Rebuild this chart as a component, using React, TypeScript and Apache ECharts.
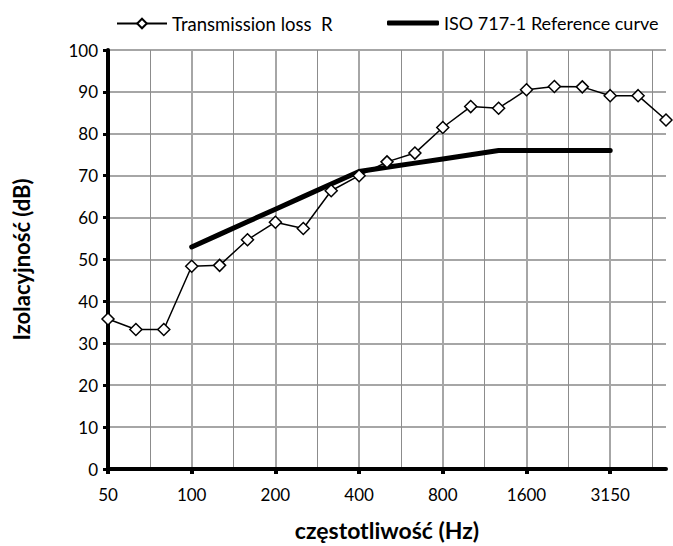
import React, { useEffect, useRef } from "react";
import * as echarts from "echarts";

// 1/3-octave band centre frequencies (Hz)
const frequencies = [
  "50", "63", "80", "100", "125", "160", "200", "250", "315", "400", "500",
  "630", "800", "1000", "1250", "1600", "2000", "2500", "3150", "4000", "5000",
];
// Transmission loss R (dB) per band
const transmissionLoss = [
  35.8, 33.3, 33.3, 48.4, 48.6, 54.7, 58.9, 57.4, 66.4, 70.0, 73.3,
  75.4, 81.5, 86.5, 86.1, 90.5, 91.3, 91.2, 89.1, 89.1, 83.3,
];
// ISO 717-1 reference curve (shifted), bands 100 .. 3150 Hz
const refStartIndex = 3;
const referenceCurve = [53, 56, 59, 62, 65, 68, 71, 72, 73, 74, 75, 76, 76, 76, 76, 76];
// x-axis labelled bands (indices)
const labelledIndices = [0, 3, 6, 9, 12, 15, 18];

const FONT = "Lato, 'Open Sans', sans-serif";

export default function App() {
  const ref = useRef<HTMLDivElement>(null);
  useEffect(() => {
    if (!ref.current) return;
    const chart = echarts.init(ref.current, undefined, { renderer: "svg" });
    const tlData = transmissionLoss.map((v, i) => [i, v]);
    const refData = referenceCurve.map((v, i) => [i + refStartIndex, v]);
    chart.setOption({
      animation: false,
      backgroundColor: "#fff",
      textStyle: { fontFamily: FONT, color: "#000" },
      grid: { left: 108, right: 7, top: 50, bottom: 73, containLabel: false },
      legend: [
        {
          data: ["Transmission loss  R"],
          left: 111,
          top: 9,
          itemWidth: 50,
          itemHeight: 12,
          itemGap: 0,
          textStyle: { fontFamily: FONT, fontSize: 18.5, color: "#000" },
        },
        {
          data: [{ name: "ISO 717-1 Reference curve", icon: "roundRect" }],
          left: 382,
          top: 9,
          itemWidth: 52,
          itemHeight: 5,
          itemGap: 0,
          textStyle: { fontFamily: FONT, fontSize: 18, color: "#000" },
        },
      ],
      xAxis: {
        type: "value",
        min: 0,
        max: frequencies.length - 1,
        interval: 3,
        name: "częstotliwość (Hz)",
        nameLocation: "middle",
        nameGap: 49,
        nameTextStyle: { fontFamily: FONT, fontSize: 23, fontWeight: "bold", color: "#000" },
        axisLine: { show: true, onZero: false, lineStyle: { color: "#000", width: 4 } },
        axisTick: {
          show: true,
          length: 5,
          lineStyle: { color: "#000", width: 4 },
          customValues: labelledIndices,
        },
        axisLabel: {
          fontFamily: FONT,
          fontSize: 17,
          color: "#000",
          margin: 17,
          customValues: labelledIndices,
          formatter: (v: number) => frequencies[Math.round(v)] ?? "",
        },
        splitLine: {
          show: true,
          showMinLine: false,
          showMaxLine: true,
          lineStyle: { color: "#a6a6a6", width: 2 },
        },
        minorTick: { show: false, splitNumber: 2 },
        minorSplitLine: { show: true, lineStyle: { color: "#8c8c8c", width: 1 } },
      },
      yAxis: {
        type: "value",
        min: 0,
        max: 100,
        interval: 10,
        name: "Izolacyjność (dB)",
        nameLocation: "middle",
        nameGap: 76,
        nameTextStyle: { fontFamily: FONT, fontSize: 22, fontWeight: "bold", color: "#000" },
        axisLine: { show: true, lineStyle: { color: "#000", width: 4 } },
        axisTick: { show: true, length: 5, lineStyle: { color: "#000", width: 3 } },
        axisLabel: { fontFamily: FONT, fontSize: 17, color: "#000", margin: 10 },
        splitLine: {
          show: true,
          showMinLine: false,
          showMaxLine: true,
          lineStyle: { color: "#a6a6a6", width: 2 },
        },
      },
      series: [
        {
          name: "Transmission loss  R",
          type: "line",
          data: tlData,
          symbol: "diamond",
          symbolSize: 12,
          showAllSymbol: true,
          lineStyle: { color: "#000", width: 1.5 },
          itemStyle: { color: "#fff", borderColor: "#000", borderWidth: 1.5 },
          z: 3,
        },
        {
          name: "ISO 717-1 Reference curve",
          type: "line",
          data: refData,
          symbol: "none",
          lineStyle: { color: "#000", width: 5, cap: "round" },
          itemStyle: { color: "#000" },
          z: 2,
        },
      ],
    });
    return () => chart.dispose();
  }, []);
  return <div ref={ref} style={{ width: 673, height: 546, position: "absolute", left: 0, top: 0 }} />;
}
